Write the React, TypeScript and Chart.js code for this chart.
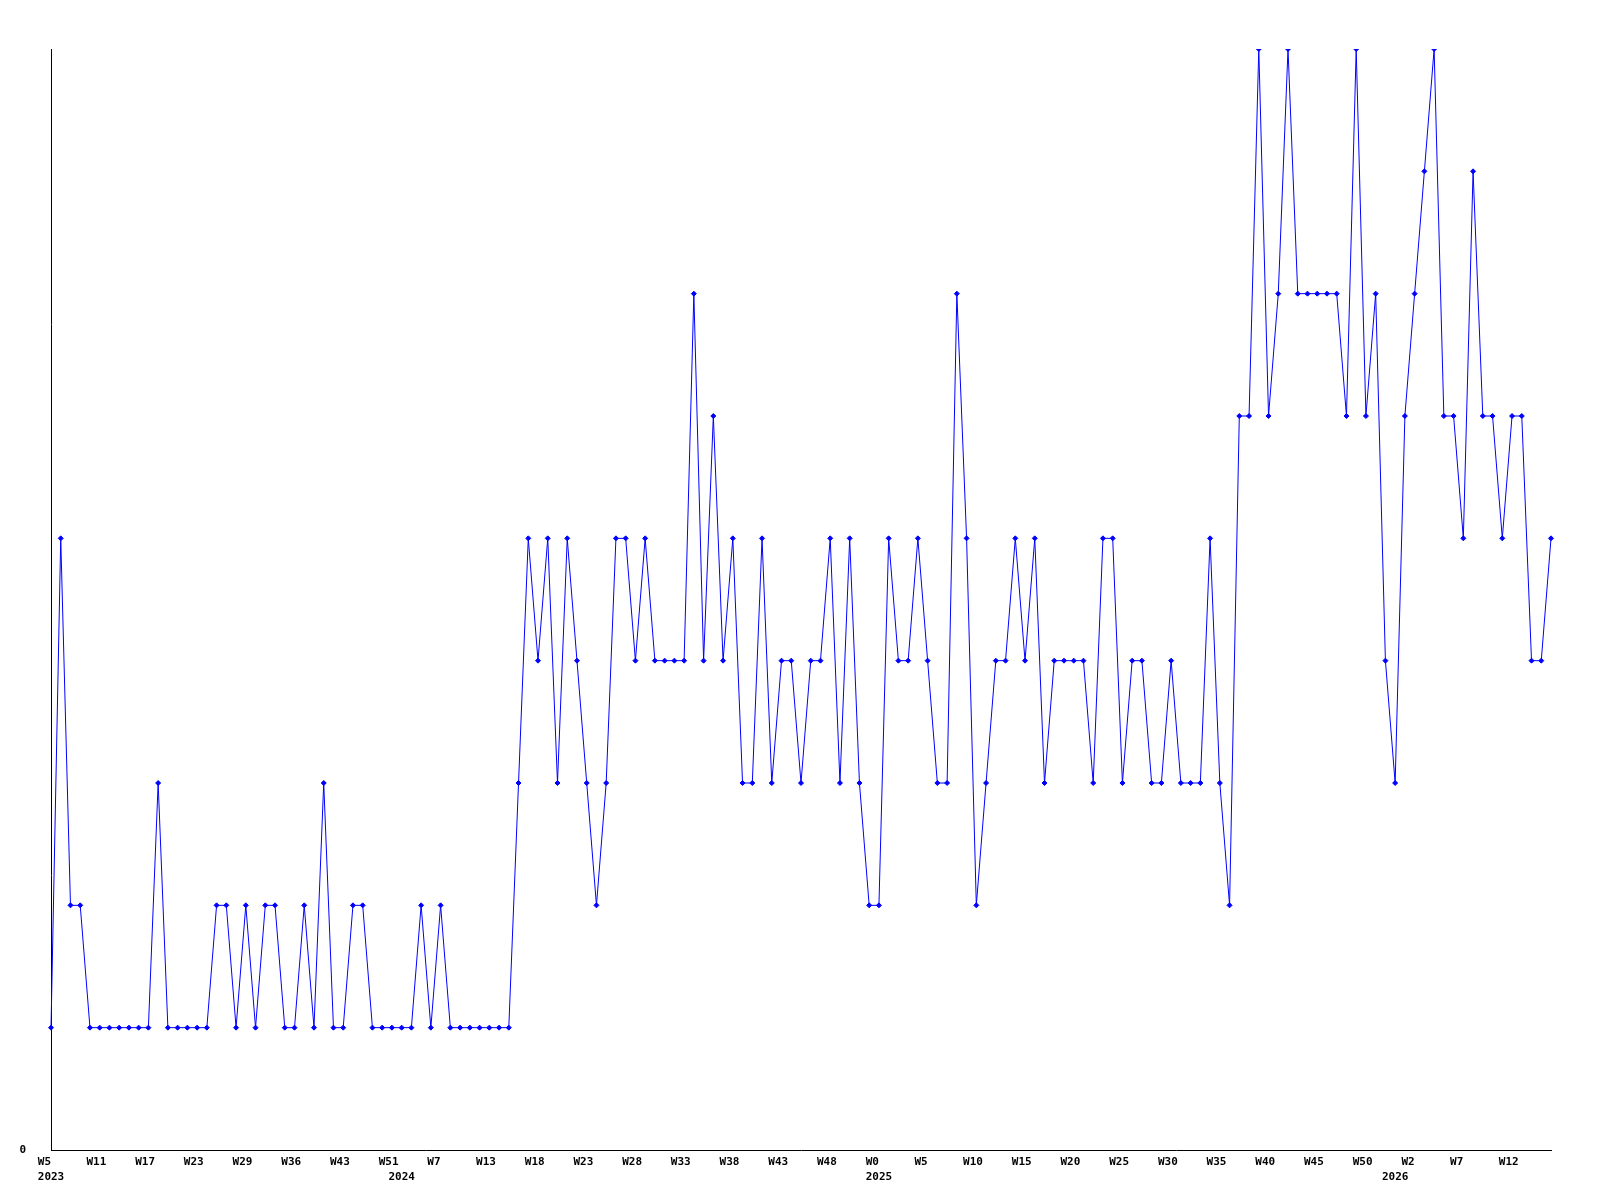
import React, { useEffect, useRef } from "react";
import { Chart, registerables } from "chart.js";

Chart.register(...registerables);

// Weekly values, one per category (155 points)
const values: number[] = [
  1, 5, 2, 2, 1, 1, 1, 1, 1, 1,
  1, 3, 1, 1, 1, 1, 1, 2, 2, 1,
  2, 1, 2, 2, 1, 1, 2, 1, 3, 1,
  1, 2, 2, 1, 1, 1, 1, 1, 2, 1,
  2, 1, 1, 1, 1, 1, 1, 1, 3, 5,
  4, 5, 3, 5, 4, 3, 2, 3, 5, 5,
  4, 5, 4, 4, 4, 4, 7, 4, 6, 4,
  5, 3, 3, 5, 3, 4, 4, 3, 4, 4,
  5, 3, 5, 3, 2, 2, 5, 4, 4, 5,
  4, 3, 3, 7, 5, 2, 3, 4, 4, 5,
  4, 5, 3, 4, 4, 4, 4, 3, 5, 5,
  3, 4, 4, 3, 3, 4, 3, 3, 3, 5,
  3, 2, 6, 6, 9, 6, 7, 9, 7, 7,
  7, 7, 7, 6, 9, 6, 7, 4, 3, 6,
  7, 8, 9, 6, 6, 5, 8, 6, 6, 5,
  6, 6, 4, 4, 5,
];

// Week tick labels, shown on every 5th category
const weekTicks: string[] = [
  "W5", "W11", "W17", "W23", "W29", "W36", "W43", "W51", "W7", "W13",
  "W18", "W23", "W28", "W33", "W38", "W43", "W48", "W0", "W5", "W10",
  "W15", "W20", "W25", "W30", "W35", "W40", "W45", "W50", "W2", "W7",
  "W12",
];
const tickEvery = 5;

// Year labels and the category index where each year begins
const years: string[] = ["2023", "2024", "2025", "2026"];
const yearStarts: number[] = [0, 36, 85, 138];

const labels = values.map((_, i) => {
  const week = i % tickEvery === 0 ? (weekTicks[i / tickEvery] ?? "").padEnd(4, " ") : "";
  const yi = yearStarts.indexOf(i);
  return yi >= 0 ? [week, years[yi]] : week;
});

const FONT = {
  family: "'DejaVu Sans Mono', 'Liberation Mono', monospace",
  size: 11,
  weight: "bold" as const,
  lineHeight: 15 / 11,
};

export default function App() {
  const canvasRef = useRef<HTMLCanvasElement | null>(null);

  useEffect(() => {
    if (!canvasRef.current) return;
    const chart = new Chart(canvasRef.current, {
      type: "line",
      data: {
        labels,
        datasets: [
          {
            data: values,
            borderColor: "#0000ff",
            borderWidth: 1,
            backgroundColor: "#0000ff",
            pointStyle: "rectRot",
            pointRadius: 2.5,
            pointBackgroundColor: "#0000ff",
            pointBorderColor: "#0000ff",
            pointBorderWidth: 1,
            tension: 0,
            fill: false,
          },
        ],
      },
      options: {
        responsive: false,
        animation: false,
        devicePixelRatio: 1,
        layout: { padding: { top: 49, right: 49, left: 0, bottom: 0 } },
        plugins: {
          legend: { display: false },
          tooltip: { enabled: false },
        },
        scales: {
          x: {
            type: "category",
            offset: false,
            grid: { display: false, drawTicks: false },
            border: { display: true, color: "#000000", width: 1 },
            ticks: {
              autoSkip: false,
              maxRotation: 0,
              minRotation: 0,
              padding: 5,
              color: "#000000",
              font: FONT,
            },
            afterFit: (scale: any) => {
              scale.height = 50;
            },
          },
          y: {
            min: 0,
            max: 9,
            grid: { display: false, drawTicks: false },
            border: { display: true, color: "#000000", width: 1 },
            ticks: {
              padding: 25,
              color: "#000000",
              font: FONT,
            },
            afterBuildTicks: (axis: any) => {
              axis.ticks = [{ value: 0 }];
            },
            afterFit: (scale: any) => {
              scale.width = 51;
            },
          },
        },
      },
    });
    return () => chart.destroy();
  }, []);

  return (
    <div style={{ position: "absolute", left: 0, top: 0, width: 1600, height: 1200, background: "#ffffff" }}>
      <canvas ref={canvasRef} width={1600} height={1200} style={{ width: 1600, height: 1200 }} />
    </div>
  );
}
